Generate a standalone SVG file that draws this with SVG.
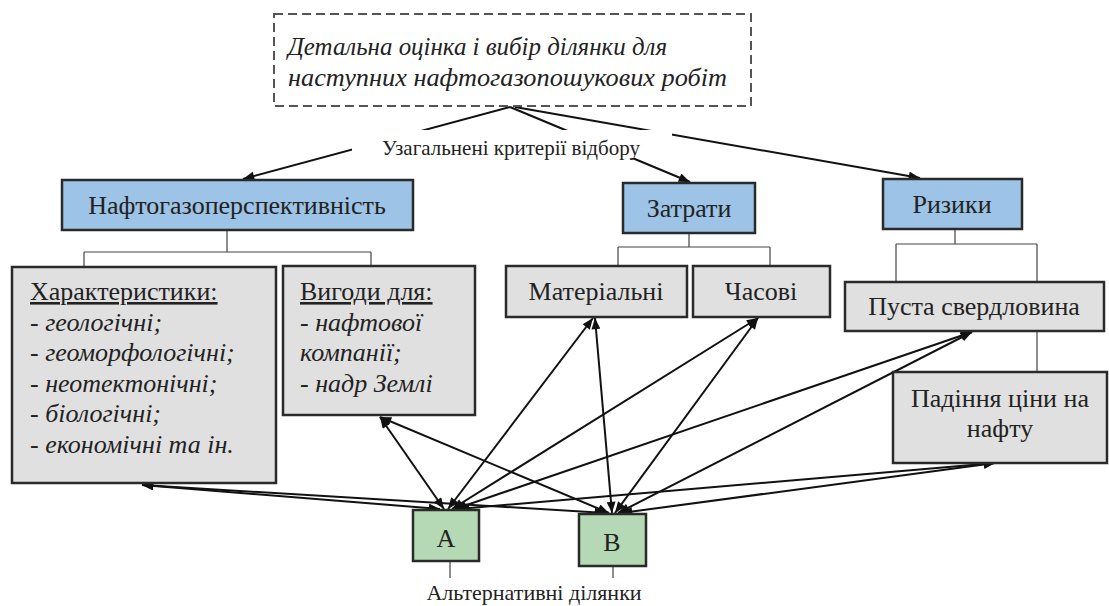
<svg xmlns="http://www.w3.org/2000/svg" width="1109" height="606" viewBox="0 0 1109 606">
<defs>
<style>
.t{font-family:"Liberation Serif","Times New Roman",serif;fill:#222;}
.i{font-style:italic;}
.box{fill:#e0e0e0;stroke:#2a2a2a;stroke-width:2.5;}
.blue{fill:#9dc3e6;stroke:#2a2a2a;stroke-width:2.5;}
.green{fill:#b5d8b5;stroke:#2a2a2a;stroke-width:2.5;}
.br{fill:none;stroke:#444;stroke-width:1.2;}
.ar{fill:none;stroke:#111;stroke-width:2;marker-end:url(#ah);}
.dar{fill:none;stroke:#111;stroke-width:2;marker-start:url(#ah);marker-end:url(#ah);}
</style>
<marker id="ah" viewBox="0 0 10 8" refX="10" refY="4" markerWidth="12" markerHeight="9" markerUnits="userSpaceOnUse" orient="auto-start-reverse">
<path d="M0,0 L10,4 L0,8 Z" fill="#111"/>
</marker>
</defs>
<rect width="1109" height="606" fill="#fff"/>

<g id="connectors">
<line class="ar" x1="510" y1="107" x2="243" y2="179"/>
<line class="ar" x1="510" y1="107" x2="690" y2="182"/>
<line class="ar" x1="515" y1="107" x2="920" y2="178"/>
<rect x="352" y="130" width="320" height="28" fill="#fff"/>
<path class="br" d="M227,230 V252 M84,252 H371 M84,252 V267 M371,252 V266"/>
<path class="br" d="M689,233 V247 M618,247 H770 M618,247 V266 M770,247 V266"/>
<path class="br" d="M955,229 V244 M896,244 H1037 M896,244 V282 M1037,244 V372"/>
<path class="br" d="M450,561 V578 M613,566 V578"/>
<line class="dar" x1="440" y1="509" x2="142" y2="485"/>
<line class="dar" x1="444" y1="509" x2="380" y2="417"/>
<line class="dar" x1="448" y1="509" x2="593" y2="318"/>
<line class="dar" x1="452" y1="509" x2="758" y2="318"/>
<line class="dar" x1="455" y1="509" x2="972" y2="332"/>
<line class="dar" x1="458" y1="509" x2="995" y2="463"/>
<line class="dar" x1="606" y1="513" x2="142" y2="485"/>
<line class="dar" x1="609" y1="513" x2="380" y2="417"/>
<line class="dar" x1="612" y1="513" x2="595" y2="318"/>
<line class="dar" x1="615" y1="513" x2="758" y2="318"/>
<line class="dar" x1="618" y1="513" x2="972" y2="332"/>
<line class="dar" x1="621" y1="513" x2="995" y2="463"/>
</g>

<g id="top">
<rect x="274" y="14" width="477" height="92" fill="#fff" stroke="#555" stroke-width="2" stroke-dasharray="9,5"/>
<text class="t i" x="288" y="55" font-size="26" textLength="379" lengthAdjust="spacingAndGlyphs">Детальна оцінка і вибір ділянки для</text>
<text class="t i" x="288" y="86" font-size="26" textLength="439" lengthAdjust="spacingAndGlyphs">наступних нафтогазопошукових робіт</text>
</g>

<g id="criteria-label">
<text class="t" x="511" y="155" font-size="21" text-anchor="middle">Узагальнені критерії відбору</text>
</g>

<g id="n-perspective">
<rect class="blue" x="62" y="180" width="351" height="50"/>
<text class="t" x="237" y="214" font-size="26" text-anchor="middle">Нафтогазоперспективність</text>
</g>
<g id="n-costs">
<rect class="blue" x="623" y="183" width="132" height="50"/>
<text class="t" x="689" y="217" font-size="26" text-anchor="middle">Затрати</text>
</g>
<g id="n-risks">
<rect class="blue" x="883" y="179" width="139" height="50"/>
<text class="t" x="952" y="213" font-size="26" text-anchor="middle">Ризики</text>
</g>

<g id="n-characteristics">
<rect class="box" x="12" y="267" width="264" height="216"/>
<text class="t" x="30" y="300" font-size="26" text-decoration="underline">Характеристики:</text>
<text class="t i" x="30" y="331" font-size="26">- геологічні;</text>
<text class="t i" x="30" y="361" font-size="26">- геоморфологічні;</text>
<text class="t i" x="30" y="392" font-size="26">- неотектонічні;</text>
<text class="t i" x="30" y="422" font-size="26">- біологічні;</text>
<text class="t i" x="30" y="453" font-size="26">- економічні та ін.</text>
</g>
<g id="n-benefits">
<rect class="box" x="283" y="266" width="192" height="149"/>
<text class="t" x="300" y="300" font-size="26" text-decoration="underline">Вигоди для:</text>
<text class="t i" x="300" y="331" font-size="26">- нафтової</text>
<text class="t i" x="300" y="361" font-size="26">компанії;</text>
<text class="t i" x="300" y="392" font-size="26">- надр Землі</text>
</g>
<g id="n-material">
<rect class="box" x="506" y="266" width="181" height="51"/>
<text class="t" x="596" y="300" font-size="26" text-anchor="middle">Матеріальні</text>
</g>
<g id="n-time">
<rect class="box" x="693" y="266" width="137" height="51"/>
<text class="t" x="761" y="300" font-size="26" text-anchor="middle">Часові</text>
</g>
<g id="n-dry-well">
<rect class="box" x="845" y="282" width="259" height="49"/>
<text class="t" x="974" y="315" font-size="26" text-anchor="middle">Пуста свердловина</text>
</g>
<g id="n-price">
<rect class="box" x="893" y="372" width="214" height="91"/>
<text class="t" x="1000" y="407" font-size="26" text-anchor="middle">Падіння ціни на</text>
<text class="t" x="1000" y="437" font-size="26" text-anchor="middle">нафту</text>
</g>
<g id="n-A">
<rect class="green" x="413" y="510" width="66" height="51"/>
<text class="t" x="446" y="547" font-size="26" text-anchor="middle">A</text>
</g>
<g id="n-B">
<rect class="green" x="579" y="514" width="67" height="52"/>
<text class="t" x="612" y="551" font-size="26" text-anchor="middle">B</text>
</g>
<g id="alt-label">
<text class="t" x="534" y="600" font-size="22" text-anchor="middle">Альтернативні ділянки</text>
</g>
</svg>
